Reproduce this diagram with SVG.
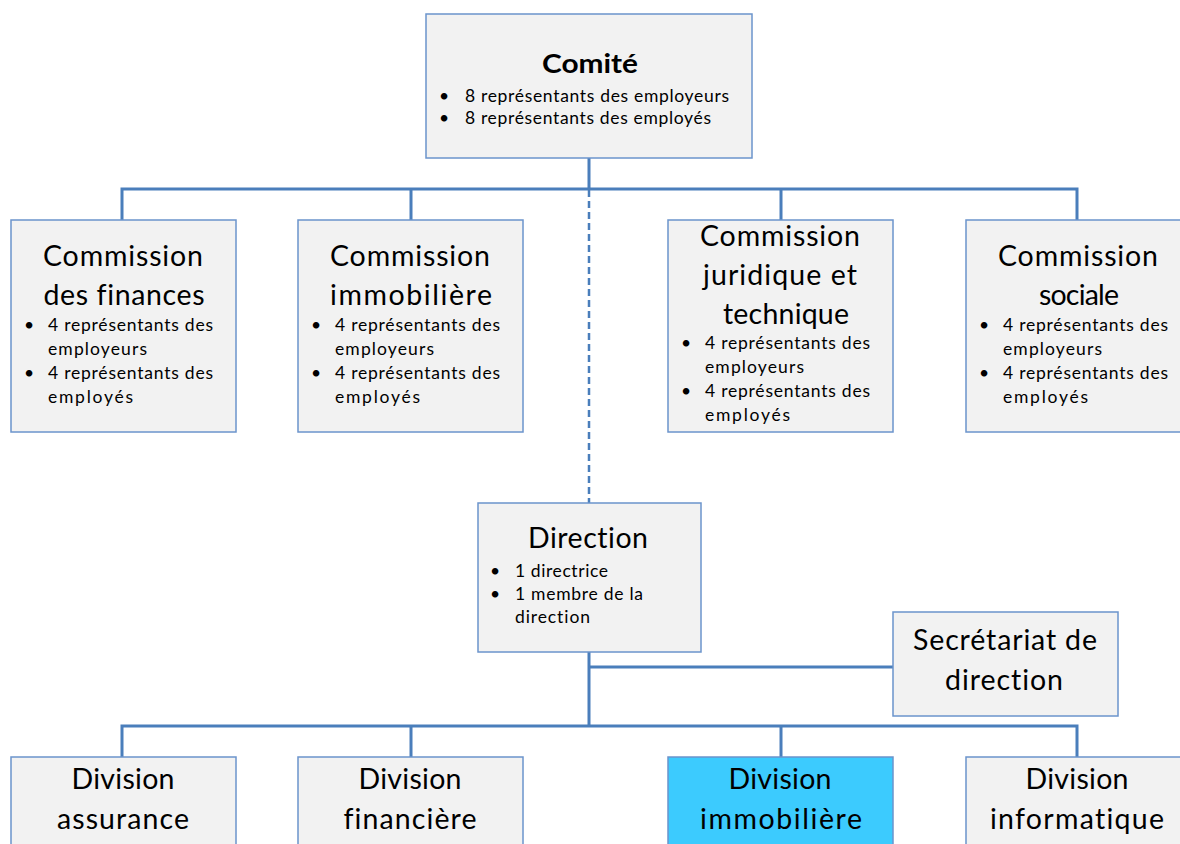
<svg xmlns="http://www.w3.org/2000/svg" width="1180" height="844" viewBox="0 0 1180 844">
<style>
.box{fill:#f2f2f2;stroke:#6b94cc;stroke-width:1.5}
.hl{fill:#3ccbfe;stroke:#6b94cc;stroke-width:1.5}
.ln{fill:none;stroke:#4a7ebb;stroke-width:3}
.dash{fill:none;stroke:#4a7ebb;stroke-width:2.5;stroke-dasharray:7 4}
text{font-family:Lato,"Liberation Sans",sans-serif;fill:#000;font-variant-ligatures:none;font-feature-settings:"liga" 0,"dlig" 0}
.t{font-size:28.5px;text-anchor:middle}
.b{font-size:17.5px}
.h{font-size:27px;font-weight:bold;text-anchor:middle}
</style>
<rect width="1180" height="844" fill="#fff"/>
<g id="connectors">
<path class="ln" d="M589 158V189M122 220V189H1077V220M411 189V220M781 189V220"/>
<path class="dash" d="M589 190V503"/>
<path class="ln" d="M589 652V726M589 667H893M122 757V726H1077V757M411 726V757M781 726V757"/>
</g>
<g id="comite">
<rect class="box" x="426" y="14" width="326" height="144"/>
<text class="h" x="590" y="73" textLength="96" lengthAdjust="spacingAndGlyphs">Comité</text>
<text class="b" x="439" y="102">•</text>
<text class="b" x="465" y="102" textLength="264" lengthAdjust="spacing">8 représentants des employeurs</text>
<text class="b" x="439" y="124">•</text>
<text class="b" x="465" y="124" textLength="246" lengthAdjust="spacing">8 représentants des employés</text>
</g>
<g id="commission-finances">
<rect class="box" x="11" y="220" width="225" height="212"/>
<text class="t" x="123" y="266" textLength="160" lengthAdjust="spacing">Commission</text>
<text class="t" x="124" y="305" textLength="161" lengthAdjust="spacing">des finances</text>
<text class="b" x="24" y="331">•</text>
<text class="b" x="48" y="331" textLength="165" lengthAdjust="spacing">4 représentants des</text>
<text class="b" x="48" y="355" textLength="99" lengthAdjust="spacing">employeurs</text>
<text class="b" x="24" y="379">•</text>
<text class="b" x="48" y="379" textLength="165" lengthAdjust="spacing">4 représentants des</text>
<text class="b" x="48" y="403" textLength="85" lengthAdjust="spacing">employés</text>
</g>
<g id="commission-immobiliere">
<rect class="box" x="298" y="220" width="225" height="212"/>
<text class="t" x="410" y="266" textLength="160" lengthAdjust="spacing">Commission</text>
<text class="t" x="411" y="305" textLength="162" lengthAdjust="spacing">immobilière</text>
<text class="b" x="311" y="331">•</text>
<text class="b" x="335" y="331" textLength="165" lengthAdjust="spacing">4 représentants des</text>
<text class="b" x="335" y="355" textLength="99" lengthAdjust="spacing">employeurs</text>
<text class="b" x="311" y="379">•</text>
<text class="b" x="335" y="379" textLength="165" lengthAdjust="spacing">4 représentants des</text>
<text class="b" x="335" y="403" textLength="85" lengthAdjust="spacing">employés</text>
</g>
<g id="commission-juridique">
<rect class="box" x="668" y="220" width="225" height="212"/>
<text class="t" x="780" y="246" textLength="160" lengthAdjust="spacing">Commission</text>
<text class="t" x="780" y="285" textLength="154" lengthAdjust="spacing">juridique et</text>
<text class="t" x="786" y="324" textLength="126" lengthAdjust="spacing">technique</text>
<text class="b" x="681" y="349">•</text>
<text class="b" x="705" y="349" textLength="165" lengthAdjust="spacing">4 représentants des</text>
<text class="b" x="705" y="373" textLength="99" lengthAdjust="spacing">employeurs</text>
<text class="b" x="681" y="397">•</text>
<text class="b" x="705" y="397" textLength="165" lengthAdjust="spacing">4 représentants des</text>
<text class="b" x="705" y="421" textLength="85" lengthAdjust="spacing">employés</text>
</g>
<g id="commission-sociale">
<rect class="box" x="966" y="220" width="225" height="212"/>
<text class="t" x="1078" y="266" textLength="160" lengthAdjust="spacing">Commission</text>
<text class="t" x="1079" y="305" textLength="80" lengthAdjust="spacing">sociale</text>
<text class="b" x="979" y="331">•</text>
<text class="b" x="1003" y="331" textLength="165" lengthAdjust="spacing">4 représentants des</text>
<text class="b" x="1003" y="355" textLength="99" lengthAdjust="spacing">employeurs</text>
<text class="b" x="979" y="379">•</text>
<text class="b" x="1003" y="379" textLength="165" lengthAdjust="spacing">4 représentants des</text>
<text class="b" x="1003" y="403" textLength="85" lengthAdjust="spacing">employés</text>
</g>
<g id="direction">
<rect class="box" x="478" y="503" width="223" height="149"/>
<text class="t" x="588" y="548" textLength="120" lengthAdjust="spacing">Direction</text>
<text class="b" x="490" y="577">•</text>
<text class="b" x="515" y="577" textLength="93" lengthAdjust="spacing">1 directrice</text>
<text class="b" x="490" y="600">•</text>
<text class="b" x="515" y="600" textLength="128" lengthAdjust="spacing">1 membre de la</text>
<text class="b" x="515" y="623" textLength="75" lengthAdjust="spacing">direction</text>
</g>
<g id="secretariat">
<rect class="box" x="893" y="612" width="225" height="104"/>
<text class="t" x="1005" y="650" textLength="184" lengthAdjust="spacing">Secrétariat de</text>
<text class="t" x="1004" y="690" textLength="118" lengthAdjust="spacing">direction</text>
</g>
<g id="division-assurance">
<rect class="box" x="11" y="757" width="225" height="100"/>
<text class="t" x="123" y="789" textLength="103" lengthAdjust="spacing">Division</text>
<text class="t" x="123" y="829" textLength="132" lengthAdjust="spacing">assurance</text>
</g>
<g id="division-financiere">
<rect class="box" x="298" y="757" width="225" height="100"/>
<text class="t" x="410" y="789" textLength="103" lengthAdjust="spacing">Division</text>
<text class="t" x="410" y="829" textLength="133" lengthAdjust="spacing">financière</text>
</g>
<g id="division-immobiliere">
<rect class="hl" x="668" y="757" width="225" height="100"/>
<text class="t" x="780" y="789" textLength="103" lengthAdjust="spacing">Division</text>
<text class="t" x="781" y="829" textLength="162" lengthAdjust="spacing">immobilière</text>
</g>
<g id="division-informatique">
<rect class="box" x="966" y="757" width="225" height="100"/>
<text class="t" x="1077" y="789" textLength="103" lengthAdjust="spacing">Division</text>
<text class="t" x="1077" y="829" textLength="174" lengthAdjust="spacing">informatique</text>
</g>
</svg>
